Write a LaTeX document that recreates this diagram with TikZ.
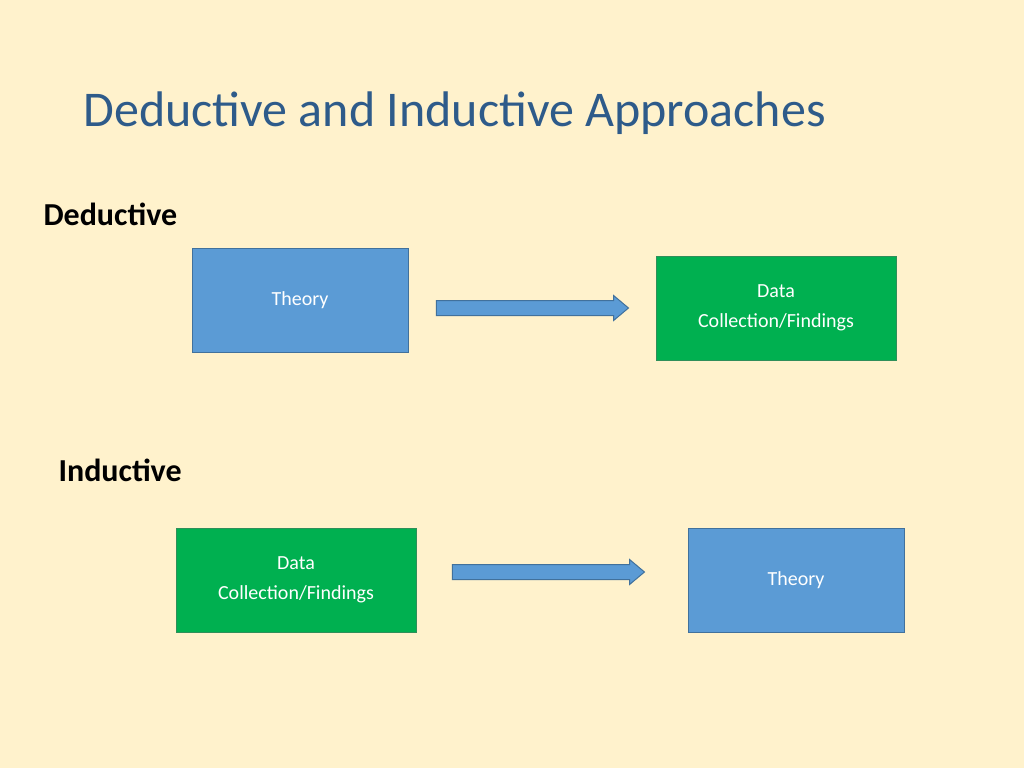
\documentclass[tikz,border=0pt]{standalone}
\usepackage{fontspec}
\setmainfont{Carlito}
\usetikzlibrary{shapes.arrows}
\definecolor{bgcol}{HTML}{FFF2CC}
\definecolor{bluebox}{HTML}{5B9BD5}
\definecolor{blueline}{HTML}{41719C}
\definecolor{greenbox}{HTML}{00B050}
\definecolor{greenline}{HTML}{2F8F5A}
\definecolor{titlecol}{HTML}{2E5B8A}
\tikzset{
  theory/.style={draw=blueline, fill=bluebox, text=white, font=\fontsize{20}{24}\selectfont, minimum width=216pt, minimum height=104pt, line width=1pt},
  findings/.style={draw=greenline, fill=greenbox, text=white, font=\fontsize{20}{30}\selectfont, align=center, minimum width=240pt, minimum height=104pt, line width=1pt},
  blockarrow/.style={single arrow, draw=blueline, fill=bluebox, minimum height=192pt, minimum width=24pt, inner sep=7pt, single arrow head extend=5pt, shape border rotate=0, single arrow tip angle=80, line width=1pt},
  heading/.style={anchor=west, font=\bfseries\fontsize{32}{36}\selectfont}
}
\begin{document}
\begin{tikzpicture}[x=1pt, y=-1pt]
		\fill[bgcol] (0,0) rectangle (1024,768);
		\useasboundingbox (0,0) rectangle (1024,768);

		\node[anchor=west, text=titlecol, font=\fontsize{50}{60}\selectfont] (title) at (80,113) {Deductive and Inductive Approaches};

		\node[heading] (ded) at (40,214) {Deductive};
		\node[theory] (dtheory) at (300,300) {Theory};
		\node[findings] (ddata) at (776,308) {Data\\Collection/Findings};
		\node[blockarrow] (darrow) at (528,308) {};

		\node[heading] (ind) at (55,470) {Inductive};
		\node[findings] (idata) at (296,580) {Data\\Collection/Findings};
		\node[theory] (itheory) at (796,580) {Theory};
		\node[blockarrow] (iarrow) at (544,572) {};
	\end{tikzpicture}
\end{document}
